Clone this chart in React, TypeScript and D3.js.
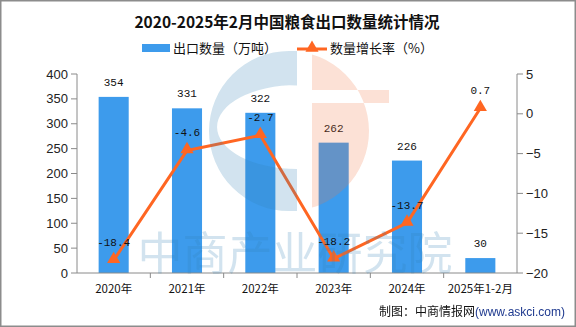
import React from "react";
import * as d3 from "d3";

const categories = ["2020年", "2021年", "2022年", "2023年", "2024年", "2025年1-2月"];
const exportVolume = [354, 331, 322, 262, 226, 30];
const growthRate = [-18.4, -4.6, -2.7, -18.2, -13.7, 0.7];
const leftTicks = [0, 50, 100, 150, 200, 250, 300, 350, 400];
const rightTicks = [-20, -15, -10, -5, 0, 5];

const W = 576;
const H = 327;
const X0 = 77;
const X1 = 517;
const YT = 74;
const YB = 273;

const BAR = "#3d9bec";
const LINE = "#ff6622";
const AXIS = "#8a8a8a";
const WM_BLUE = "rgb(50,130,180)";
const WM_ORANGE = "rgb(240,120,70)";
const CJK = "'Noto Sans CJK SC', 'Noto Sans', sans-serif";
const NUM = "'Liberation Sans', Arial, sans-serif";
const MONO = "'Liberation Mono', 'DejaVu Sans Mono', monospace";

export default function App() {
  const x = d3.scaleBand<string>().domain(categories).range([X0, X1]).padding(0);
  const yL = d3.scaleLinear().domain([0, 400]).range([YB, YT]);
  const yR = d3.scaleLinear().domain([-20, 5]).range([YB, YT]);
  const barW = x.bandwidth() * 0.41;
  const cx = (c: string) => (x(c) as number) + x.bandwidth() / 2;

  const linePath = d3
    .line<number>()
    .x((_, i) => cx(categories[i]))
    .y((d) => yR(d))(growthRate) as string;

  const tri = d3.symbol().type(d3.symbolTriangle).size(75)() as string;
  const fmt = d3.format("");

  const lc = { x: 289, y: 131, r: 80 };
  const blueClip = "wm-blue";
  const orangeClip = "wm-orange";

  return (
    <svg
      width={W}
      height={H}
      style={{ position: "absolute", left: 0, top: 0, background: "#fff" }}
      fontFamily={CJK}
    >
      <defs>
        <clipPath id={blueClip}>
          <rect x={lc.x - lc.r - 2} y={lc.y - lc.r - 2} width={lc.r + 10} height={lc.r * 2 + 4} />
        </clipPath>
        <clipPath id={orangeClip}>
          <rect x={lc.x + 23} y={lc.y - lc.r - 2} width={lc.r} height={lc.r * 2 + 4} />
        </clipPath>
      </defs>
      <rect x={0} y={0} width={W} height={H} fill="#fff" />

      {/* title */}
      <text x={287} y={28} textAnchor="middle" fontSize={15.5} fontWeight="bold" fill="#111">
        2020-2025年2月中国粮食出口数量统计情况
      </text>

      {/* legend */}
      <rect x={142} y={44} width={28} height={8} fill={BAR} />
      <text x={173} y={53} fontSize={13} fill="#111">出口数量（万吨）</text>
      <line x1={297} x2={327} y1={49} y2={49} stroke={LINE} strokeWidth={3} />
      <path d={tri} transform="translate(312,48)" fill={LINE} />
      <text x={330} y={53} fontSize={13} fill="#111">数量增长率（%）</text>

      {/* bars */}
      {exportVolume.map((v, i) => (
        <rect
          key={"b" + i}
          x={cx(categories[i]) - barW / 2}
          y={yL(v)}
          width={barW}
          height={YB - yL(v)}
          fill={BAR}
        />
      ))}
      {exportVolume.map((v, i) => (
        <text
          key={"bl" + i}
          x={cx(categories[i])}
          y={yL(v) - 11}
          textAnchor="middle"
          fontSize={11}
          fontFamily={MONO}
          fill="#111"
        >
          {v}
        </text>
      ))}

      {/* axes */}
      <line x1={X0} x2={X0} y1={YT} y2={YB} stroke={AXIS} />
      {leftTicks.map((t) => (
        <g key={"lt" + t}>
          <line x1={X0 - 6} x2={X0} y1={yL(t)} y2={yL(t)} stroke={AXIS} />
          <text x={X0 - 9} y={yL(t) + 4.5} textAnchor="end" fontSize={13} fontFamily={NUM} fill="#222">
            {fmt(t)}
          </text>
        </g>
      ))}
      <line x1={X1} x2={X1} y1={YT} y2={YB} stroke={AXIS} />
      {rightTicks.map((t) => (
        <g key={"rt" + t}>
          <line x1={X1} x2={X1 + 6} y1={yR(t)} y2={yR(t)} stroke={AXIS} />
          <text x={X1 + 9} y={yR(t) + 4.5} textAnchor="start" fontSize={13} fontFamily={NUM} fill="#222">
            {fmt(t)}
          </text>
        </g>
      ))}
      <line x1={X0} x2={X1} y1={YB} y2={YB} stroke={AXIS} />
      {categories.map((c, i) => (
        <g key={"xt" + c}>
          {i > 0 && <line x1={x(c)} x2={x(c)} y1={YB} y2={YB + 5} stroke={AXIS} />}
          <text x={cx(c)} y={293} textAnchor="middle" fontSize={11.5} fill="#111">
            {c}
          </text>
        </g>
      ))}

      {/* line */}
      <path d={linePath} fill="none" stroke={LINE} strokeWidth={3} strokeLinejoin="round" />
      {growthRate.map((v, i) => (
        <path key={"m" + i} d={tri} transform={`translate(${cx(categories[i])},${yR(v) - 1})`} fill={LINE} />
      ))}
      {growthRate.map((v, i) => (
        <text
          key={"ll" + i}
          x={cx(categories[i])}
          y={yR(v) - 14}
          textAnchor="middle"
          fontSize={11}
          fontFamily={MONO}
          fill="#111"
        >
          {v.toFixed(1)}
        </text>
      ))}

      {/* watermark */}
      <g opacity={0.22} pointerEvents="none">
        <g clipPath={`url(#${blueClip})`}>
          <path
            fillRule="evenodd"
            fill={WM_BLUE}
            d={`M${lc.x},${lc.y - lc.r} A${lc.r},${lc.r} 0 1 0 ${lc.x},${lc.y + lc.r} L${lc.x + 8},${lc.y + lc.r} L${lc.x + 8},${lc.y - lc.r} Z M${lc.x + 8},${lc.y - 46} A80,42 0 0 0 ${lc.x + 8},${lc.y + 38} Z`}
          />
        </g>
        <g clipPath={`url(#${orangeClip})`}>
          <path
            fill={WM_ORANGE}
            fillRule="evenodd"
            d={`M${lc.x},${lc.y - lc.r} A${lc.r},${lc.r} 0 1 1 ${lc.x},${lc.y + lc.r} Z M${lc.x},${lc.y - 41} L${lc.x + 100},${lc.y - 41} L${lc.x + 100},${lc.y - 28} L${lc.x},${lc.y - 28} Z`}
          />
        </g>
        <text x={295} y={270} textAnchor="middle" fontSize={45} fontWeight="normal" fill={WM_BLUE}>
          中商产业研究院
        </text>
      </g>

      {/* footer */}
      <text x={565} y={316} textAnchor="end" fontSize={12} fill="#111">
        制图：中商情报网<tspan fill="#1f3a8f" fontFamily={NUM}>(www.askci.com)</tspan>
      </text>

      {/* frame */}
      <rect x={0.75} y={0.75} width={W - 1.5} height={H - 1.5} fill="none" stroke="#8c8c8c" strokeWidth={1.5} />
    </svg>
  );
}
